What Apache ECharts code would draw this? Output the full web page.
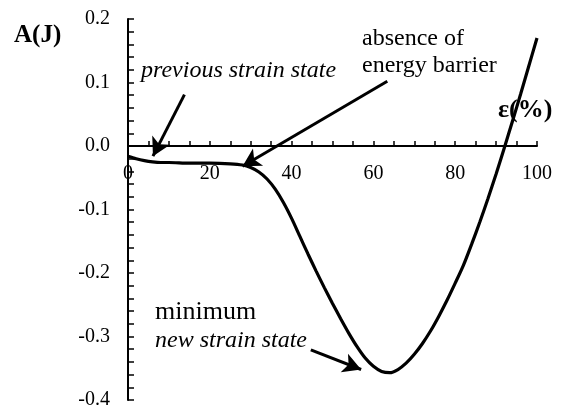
<!DOCTYPE html>
<html><head><meta charset="utf-8">
<script src="https://cdn.jsdelivr.net/npm/echarts@6/dist/echarts.min.js"></script>
<style>html,body{margin:0;padding:0;background:#fff}#c{width:567px;height:412px}</style>
</head><body><div id="c"></div>
<script>
var strain = [0,2,4,6,8,10,15,20,25,28,30,32,34,36,38,40,42,44,46,48,50,52,54,56,58,60,62,64,66,68,70,72,74,76,78,80,82,84,86,88,90,92,94,96,98,100];
var energy = [-0.016,-0.020,-0.023,-0.025,-0.026,-0.026,-0.027,-0.027,-0.028,-0.030,-0.034,-0.041,-0.052,-0.068,-0.089,-0.114,-0.142,-0.170,-0.197,-0.223,-0.248,-0.272,-0.295,-0.316,-0.334,-0.347,-0.355,-0.357,-0.352,-0.342,-0.328,-0.311,-0.291,-0.268,-0.243,-0.216,-0.188,-0.155,-0.120,-0.083,-0.044,-0.003,0.039,0.082,0.126,0.170];
var xTicks = [0,20,40,60,80,100];
var yTicks = [-0.4,-0.3,-0.2,-0.1,0.0,0.1,0.2];
var arrows = [
  [[13.8,0.081],[6.1,-0.016]],
  [[63.4,0.102],[28.0,-0.032]],
  [[44.7,-0.321],[57.0,-0.352]]
];
var F = '"Liberation Serif","Times New Roman",serif';
var chart = echarts.init(document.getElementById('c'));
chart.setOption({
  animation:false,
  grid:{left:128,right:30,top:19,bottom:12,containLabel:false,outerBoundsMode:'none'},
  xAxis:{type:'value',min:xTicks[0],max:xTicks[xTicks.length-1],interval:20,
    position:'bottom',offset:-254,
    axisLine:{onZero:false,lineStyle:{color:'#000',width:2}},
    axisTick:{inside:true,length:5,lineStyle:{color:'#000',width:1.5}},
    minorTick:{show:true,splitNumber:4,length:5,lineStyle:{color:'#000',width:1.5}},
    splitLine:{show:false},
    axisLabel:{color:'#000',fontFamily:F,fontSize:20,margin:18}},
  yAxis:{type:'value',min:yTicks[0],max:yTicks[yTicks.length-1],interval:0.1,
    axisLine:{show:true,onZero:false,lineStyle:{color:'#000',width:2}},
    axisTick:{inside:true,length:6,lineStyle:{color:'#000',width:1.5}},
    minorTick:{show:true,splitNumber:5,length:6,lineStyle:{color:'#000',width:1.5}},
    splitLine:{show:false},
    axisLabel:{color:'#000',fontFamily:F,fontSize:20,margin:18,padding:[3,0,0,0],formatter:function(v){return v.toFixed(1);}}},
  series:[{type:'line',data:strain.map(function(x,i){return [x,energy[i]];}),
    smooth:0.3,showSymbol:false,lineStyle:{color:'#000',width:3.2},
    markLine:{silent:true,symbol:['none','arrow'],symbolSize:[15,18],
      lineStyle:{color:'#000',width:3,type:'solid'},label:{show:false},
      data:arrows.map(function(a){return [{coord:a[0]},{coord:a[1]}];})}}],
  graphic:[
    {type:'text',left:14,top:23,style:{text:'A(J)',font:'bold 25px '+F,fill:'#000'}},
    {type:'text',left:498,top:97,style:{text:'ε(%)',font:'bold 26px '+F,fill:'#000'}},
    {type:'text',left:141,top:59,style:{text:'previous strain state',font:'italic 24px '+F,fill:'#000'}},
    {type:'text',left:362,top:27,style:{text:'absence of',font:'24px '+F,fill:'#000'}},
    {type:'text',left:362,top:54,style:{text:'energy barrier',font:'24px '+F,fill:'#000'}},
    {type:'text',left:155,top:299,style:{text:'minimum',font:'26px '+F,fill:'#000'}},
    {type:'text',left:155,top:329,style:{text:'new strain state',font:'italic 24px '+F,fill:'#000'}}
  ]
});
</script></body></html>
